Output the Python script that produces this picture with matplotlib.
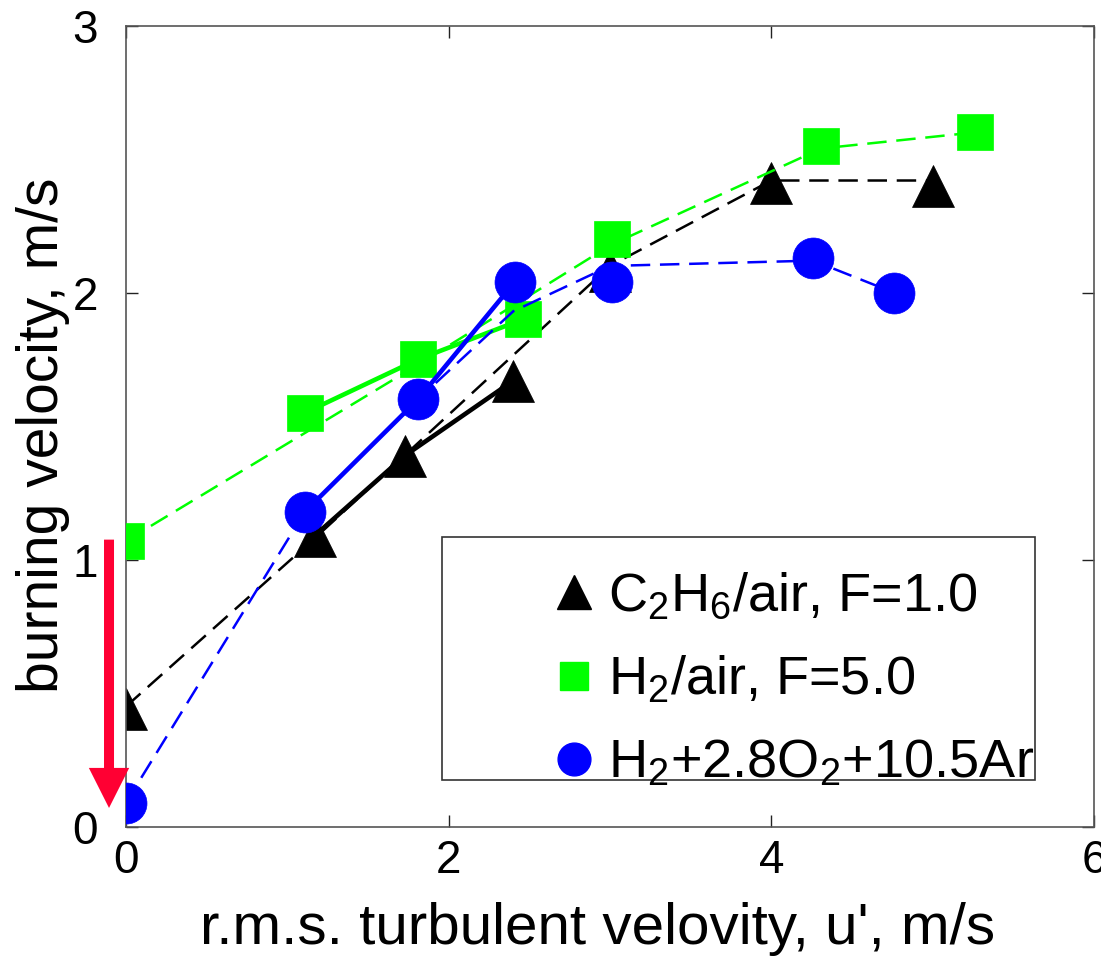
import matplotlib
matplotlib.use("Agg")
import matplotlib.pyplot as plt
from matplotlib.patches import Rectangle, FancyArrow
from matplotlib.lines import Line2D

# ----------------------------------------------------------------------------
# Data
# ----------------------------------------------------------------------------

# C2H6/air, F=1.0  (black triangles)
c2h6_u = [0.0, 1.17, 1.73, 2.40, 3.00, 4.00, 5.00]
c2h6_s = [0.44, 1.09, 1.39, 1.67, 2.08, 2.41, 2.40]
c2h6_fit_u = [0.0, 1.17, 3.00, 4.00, 5.00]        # dashed curve
c2h6_fit_s = [0.45, 1.08, 2.10, 2.42, 2.42]
c2h6_exp_u = [1.17, 1.73, 2.40]                    # solid segment
c2h6_exp_s = [1.09, 1.39, 1.67]

# H2/air, F=5.0  (green squares)
h2air_u = [0.0, 1.11, 1.81, 2.46, 3.01, 4.31, 5.26]
h2air_s = [1.07, 1.55, 1.75, 1.90, 2.20, 2.55, 2.60]
h2air_fit_u = [0.0, 1.81, 3.01, 4.31, 5.26]
h2air_fit_s = [1.07, 1.73, 2.18, 2.54, 2.60]
h2air_exp_u = [1.11, 1.81, 2.46]
h2air_exp_s = [1.55, 1.75, 1.90]

# H2+2.8O2+10.5Ar  (blue circles)
h2ar_u = [0.0, 1.11, 1.81, 2.41, 3.01, 4.26, 4.76]
h2ar_s = [0.09, 1.18, 1.60, 2.04, 2.04, 2.13, 2.00]
h2ar_fit_u = [0.0, 1.11, 1.81, 2.40, 3.00, 4.26, 4.76]
h2ar_fit_s = [0.09, 1.18, 1.60, 1.93, 2.10, 2.12, 2.00]
h2ar_exp_u = [1.11, 1.81, 2.41]
h2ar_exp_s = [1.18, 1.60, 2.04]

labels = [r"C$\mathregular{_2}$H$\mathregular{_6}$/air, F=1.0",
          r"H$\mathregular{_2}$/air, F=5.0",
          r"H$\mathregular{_2}$+2.8O$\mathregular{_2}$+10.5Ar"]

# laminar-limit arrow (x, top, tip)
arrow_x, arrow_top, arrow_tip = -0.105, 1.075, 0.07

# ----------------------------------------------------------------------------
# Style
# ----------------------------------------------------------------------------

plt.rcParams.update({
    "font.family": ["Liberation Sans", "DejaVu Sans"],
    "mathtext.fontset": "custom",
    "mathtext.rm": "Liberation Sans",
    "lines.scale_dashes": False,
})

BLACK = "#000000"
GREEN = "#00ff00"
BLUE = "#0000ff"
RED = "#ff0033"
SPINE = "#555555"
DASH = (14, 7)

fig = plt.figure(figsize=(11.01, 9.57), dpi=100)
ax = fig.add_axes([0.1144, 0.1362, 0.8792, 0.8370])

series = [
    (c2h6_u, c2h6_s, c2h6_fit_u, c2h6_fit_s, c2h6_exp_u, c2h6_exp_s, BLACK, "^", 30),
    (h2air_u, h2air_s, h2air_fit_u, h2air_fit_s, h2air_exp_u, h2air_exp_s, GREEN, "s", 26),
    (h2ar_u, h2ar_s, h2ar_fit_u, h2ar_fit_s, h2ar_exp_u, h2ar_exp_s, BLUE, "o", 29.5),
]

for i, (u, s, fu, fs, eu, es, col, mk, ms) in enumerate(series):
    z = 2 + i
    ax.plot(fu, fs, color=col, lw=1.8, ls=(0, DASH), zorder=z)
    ax.plot(eu, es, color=col, lw=3.3, zorder=z)
    ax.plot(u, s, ls="none", marker=mk, ms=ms, color=col, mec=col, mew=0.5,
            zorder=z + 0.5)

arr = FancyArrow(arrow_x, arrow_top, 0, arrow_tip - arrow_top, width=0.062,
                 head_width=0.25, head_length=0.15, length_includes_head=True,
                 color=RED, lw=0, clip_on=False, zorder=10)
ax.add_patch(arr)

ax.set_xlim(0, 6)
ax.set_ylim(0, 3)
ax.set_xticks([0, 2, 4, 6])
ax.set_yticks([0, 1, 2, 3])
ax.tick_params(direction="in", length=8.5, width=1, top=True, right=True,
               labelsize=33, pad=9, color="#222222")
ax.tick_params(axis="y", pad=20)
for sp in ax.spines.values():
    sp.set_color(SPINE)
    sp.set_linewidth(1.2)

ax.set_xlabel("r.m.s. turbulent velovity, u', m/s", fontsize=42)
ax.set_ylabel("burning velocity, m/s", fontsize=41)
ax.xaxis.set_label_coords(0.487, -0.094)
ax.yaxis.set_label_coords(-0.086, 0.489)
ax.xaxis.label.set_va("top")
ax.yaxis.label.set_va("center")

# legend: frame drawn separately, entries sit at the right of the box
ax.add_patch(Rectangle((0.327, 0.058), 0.612, 0.304, transform=ax.transAxes,
                       fill=False, ec="#333333", lw=1.2, zorder=20))
handles = [Line2D([], [], ls="none", marker=mk, ms=ms * 0.8, color=col, mec=col)
           for (_, _, _, _, _, _, col, mk, ms) in series]
ax.legend(handles, labels, loc="center right", bbox_to_anchor=(0.938, 0.183),
          bbox_transform=ax.transAxes, frameon=False, fontsize=39,
          handlelength=0.75, handletextpad=0.25, labelspacing=0.6,
          borderpad=0.0, borderaxespad=0.0).set_zorder(21)

fig.savefig("out.png", dpi=100)
